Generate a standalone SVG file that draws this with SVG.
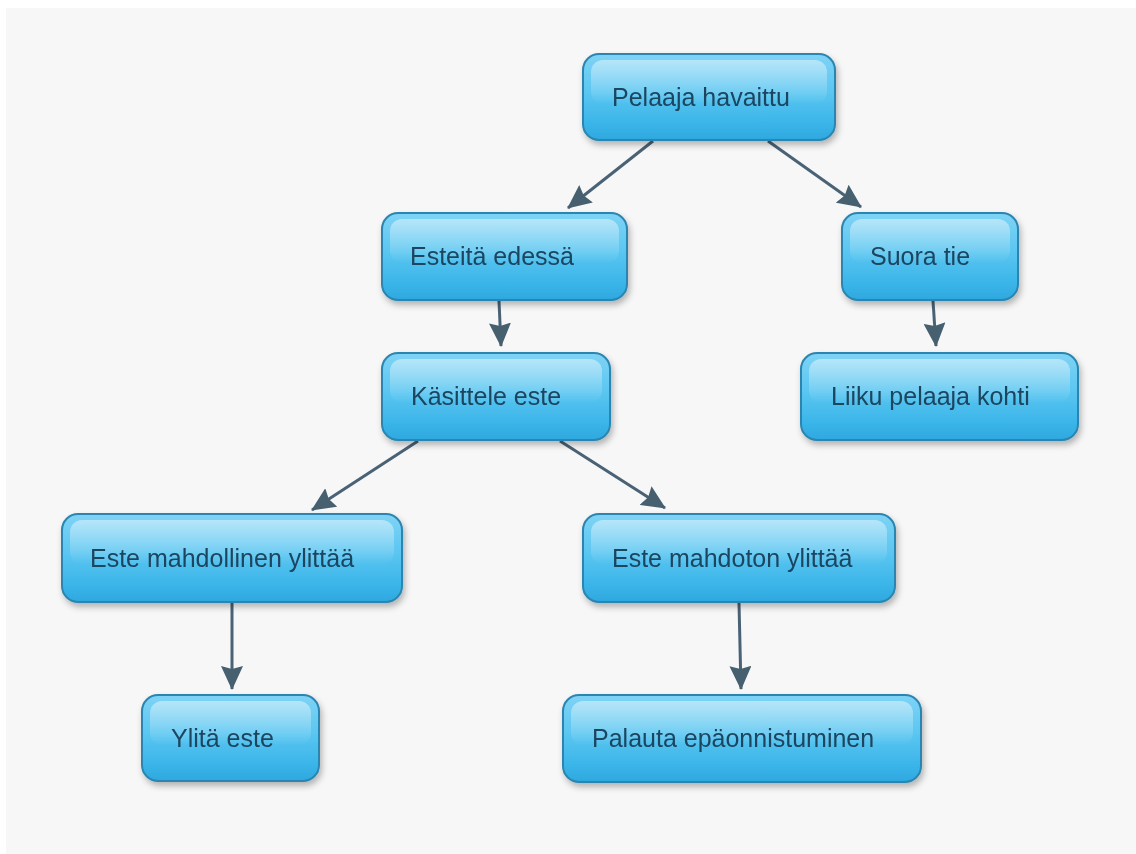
<svg xmlns="http://www.w3.org/2000/svg" width="1136" height="854" viewBox="0 0 1136 854">
  <style>
    .box { fill: url(#bodyGrad); stroke: #2a86b0; stroke-width: 2; }
    .gloss { fill: url(#glossGrad); }
    .lbl { font-family: "Liberation Sans", Arial, sans-serif; font-size: 25px; fill: #1d4560; }
    .edge { stroke: #4a6276; stroke-width: 3; fill: none; marker-end: url(#arrow); }
  </style>
  <defs>
    <linearGradient id="bodyGrad" x1="0" y1="0" x2="0" y2="1">
      <stop offset="0" stop-color="#7fd3f5"/>
      <stop offset="0.45" stop-color="#5ac6f1"/>
      <stop offset="0.8" stop-color="#3bb5e9"/>
      <stop offset="1" stop-color="#2ea8df"/>
    </linearGradient>
    <linearGradient id="glossGrad" x1="0" y1="0" x2="0" y2="1">
      <stop offset="0" stop-color="#ffffff" stop-opacity="0.45"/>
      <stop offset="0.7" stop-color="#ffffff" stop-opacity="0.15"/>
      <stop offset="1" stop-color="#ffffff" stop-opacity="0"/>
    </linearGradient>
    <filter id="shadow" x="-10%" y="-10%" width="125%" height="135%">
      <feDropShadow dx="2" dy="4" stdDeviation="3" flood-color="#000000" flood-opacity="0.28"/>
    </filter>
    <marker id="arrow" markerUnits="userSpaceOnUse" viewBox="0 0 24 22" markerWidth="24" markerHeight="22" refX="23" refY="11" orient="auto">
      <path d="M0,0 L24,11 L0,22 L3,11 z" fill="#46606f"/>
    </marker>
  </defs>

  <rect x="0" y="0" width="1136" height="854" fill="#ffffff"/>
  <rect x="6" y="8" width="1130" height="846" fill="#f7f7f7"/>

  <g id="connectors">
    <line class="edge" x1="653" y1="141" x2="568" y2="208"/>
    <line class="edge" x1="768" y1="141" x2="861" y2="207"/>
    <line class="edge" x1="499" y1="301" x2="501" y2="346"/>
    <line class="edge" x1="933" y1="301" x2="936" y2="346"/>
    <line class="edge" x1="418" y1="441" x2="312" y2="510"/>
    <line class="edge" x1="560" y1="441" x2="665" y2="508"/>
    <line class="edge" x1="232" y1="603" x2="232" y2="689"/>
    <line class="edge" x1="739" y1="603" x2="741" y2="689"/>
  </g>

  <g id="n1" filter="url(#shadow)">
    <rect class="box" x="583" y="54" width="252" height="86" rx="16"/>
    <rect class="gloss" x="591" y="60" width="236" height="44" rx="12"/>
    <text class="lbl" x="612" y="106">Pelaaja havaittu</text>
  </g>
  <g id="n2" filter="url(#shadow)">
    <rect class="box" x="382" y="213" width="245" height="87" rx="16"/>
    <rect class="gloss" x="390" y="219" width="229" height="44" rx="12"/>
    <text class="lbl" x="410" y="265">Esteitä edessä</text>
  </g>
  <g id="n3" filter="url(#shadow)">
    <rect class="box" x="842" y="213" width="176" height="87" rx="16"/>
    <rect class="gloss" x="850" y="219" width="160" height="44" rx="12"/>
    <text class="lbl" x="870" y="265">Suora tie</text>
  </g>
  <g id="n4" filter="url(#shadow)">
    <rect class="box" x="382" y="353" width="228" height="87" rx="16"/>
    <rect class="gloss" x="390" y="359" width="212" height="44" rx="12"/>
    <text class="lbl" x="411" y="405">Käsittele este</text>
  </g>
  <g id="n5" filter="url(#shadow)">
    <rect class="box" x="801" y="353" width="277" height="87" rx="16"/>
    <rect class="gloss" x="809" y="359" width="261" height="44" rx="12"/>
    <text class="lbl" x="831" y="405">Liiku pelaaja kohti</text>
  </g>
  <g id="n6" filter="url(#shadow)">
    <rect class="box" x="62" y="514" width="340" height="88" rx="16"/>
    <rect class="gloss" x="70" y="520" width="324" height="44" rx="12"/>
    <text class="lbl" x="90" y="567">Este mahdollinen ylittää</text>
  </g>
  <g id="n7" filter="url(#shadow)">
    <rect class="box" x="583" y="514" width="312" height="88" rx="16"/>
    <rect class="gloss" x="591" y="520" width="296" height="44" rx="12"/>
    <text class="lbl" x="612" y="567">Este mahdoton ylittää</text>
  </g>
  <g id="n8" filter="url(#shadow)">
    <rect class="box" x="142" y="695" width="177" height="86" rx="16"/>
    <rect class="gloss" x="150" y="701" width="161" height="44" rx="12"/>
    <text class="lbl" x="171" y="747">Ylitä este</text>
  </g>
  <g id="n9" filter="url(#shadow)">
    <rect class="box" x="563" y="695" width="358" height="87" rx="16"/>
    <rect class="gloss" x="571" y="701" width="342" height="44" rx="12"/>
    <text class="lbl" x="592" y="747">Palauta epäonnistuminen</text>
  </g>
</svg>
